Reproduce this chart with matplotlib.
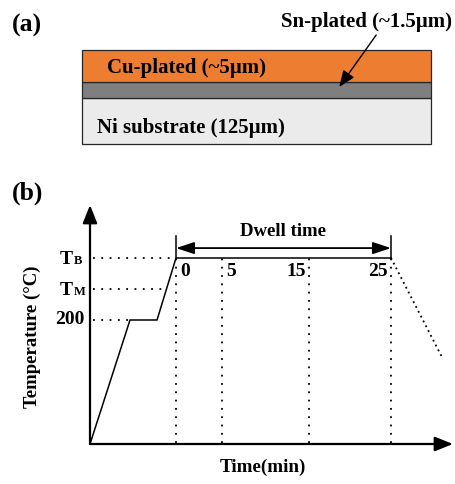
import matplotlib
matplotlib.use('Agg')
import matplotlib.pyplot as plt
from matplotlib.patches import FancyArrowPatch

# ---------------- data ----------------
layer_names = ['Ni substrate (125µm)', 'Sn-plated (~1.5µm)', 'Cu-plated (~5µm)']
layer_heights = [46, 16, 32]          # schematic (not to scale) drawn thickness
layer_colors = ['#EBEBEB', '#7F7F7F', '#ED7D31']

profile_time = [0, 40, 67, 86, 301]   # schematic time axis units
profile_temp = [0, 200, 200, 300, 300]
cool_time = [301, 352]
cool_temp = [300, 140]

temp_levels = [200, 250, 300]
temp_labels = [('200', ''), ('T', 'M'), ('T', 'B')]
temp_level_ends = [40, 76.5, 86]

dwell_pos = [86, 132, 219, 301]
dwell_labels = ['0', '5', '15', '25']

W, H = 456, 484
plt.rcParams['font.family'] = ['Liberation Serif', 'DejaVu Serif']
plt.rcParams['font.weight'] = 'bold'
fig = plt.figure(figsize=(W / 100, H / 100), dpi=100)

# ---------------- panel (a) ----------------
ax_a = fig.add_axes([82 / W, (H - 144) / H, (431 - 82) / W, 94 / H])
bottom = 0
for name, h, c in zip(layer_names, layer_heights, layer_colors):
    ax_a.bar(0.5, h, width=1.0, bottom=bottom, color=c, edgecolor='#262626', linewidth=0.9,
             clip_on=False)
    bottom += h
ax_a.set_xlim(0, 1)
ax_a.set_ylim(0, sum(layer_heights))
ax_a.axis('off')
ax_a.text(0.043, 16, layer_names[0], ha='left', va='center', fontsize=15, fontweight='bold')
ax_a.text(0.072, 76, layer_names[2], ha='left', va='center', fontsize=15, fontweight='bold')
fig.text(452 / W, 1 - 22 / H, layer_names[1], ha='right', va='center', fontsize=15, fontweight='bold')
arr = FancyArrowPatch((0.843, 109), (0.737, 57), arrowstyle='-|>,head_length=1.0,head_width=0.4',
                      mutation_scale=10, lw=1.0, color='black', shrinkA=0, shrinkB=0, clip_on=False)
ax_a.add_patch(arr)
fig.text(12 / W, 1 - 25 / H, '(a)', ha='left', va='center', fontsize=18.5, fontweight='bold')

# ---------------- panel (b) ----------------
scale = 0.62
ax_b = fig.add_axes([90 / W, (H - 444) / H, 363 / W, 239 / H])
ax_b.set_xlim(0, 363)
ax_b.set_ylim(0, 239 / scale)
ax_b.axis('off')
ytop = 239 / scale

# axes arrows
for start, end in [((0, 0), (0, ytop)), ((0, 0), (363, 0))]:
    ax_b.add_patch(FancyArrowPatch(start, end, arrowstyle='-|>,head_length=1.0,head_width=0.4',
                                   mutation_scale=11, lw=1.6, color='black', shrinkA=0, shrinkB=0,
                                   clip_on=False))

# profile
ax_b.plot(profile_time, profile_temp, color='black', lw=1.1, solid_joinstyle='miter', clip_on=False)
ax_b.plot(cool_time, cool_temp, color='black', lw=1.3, linestyle=(0, (1, 2)), clip_on=False)

dot = (0, (1, 3.6))
for lvl, end in zip(temp_levels, temp_level_ends):
    ax_b.plot([3, end], [lvl, lvl], color='black', lw=1.3, linestyle=dot)
for p in dwell_pos:
    ax_b.plot([p, p], [2, 300], color='black', lw=1.3, linestyle=dot)

# temperature labels
for lvl, (main, sub) in zip(temp_levels, temp_labels):
    if sub:
        ax_b.annotate(main, xy=(0, lvl), xytext=(-17, -6), textcoords='offset pixels',
                      ha='right', va='baseline', fontsize=14, fontweight='bold', annotation_clip=False)
        ax_b.annotate(sub, xy=(0, lvl), xytext=(-16, -6), textcoords='offset pixels',
                      ha='left', va='baseline', fontsize=9, fontweight='bold', annotation_clip=False)
    else:
        ax_b.annotate(main, xy=(0, lvl), xytext=(-5, 0), textcoords='offset pixels',
                      ha='right', va='center', fontsize=14, fontweight='bold', annotation_clip=False)

# dwell labels
for i, (p, lab) in enumerate(zip(dwell_pos, dwell_labels)):
    if i < 2:
        ax_b.annotate(lab, xy=(p, 300), xytext=(4, -13), textcoords='offset pixels',
                      ha='left', va='center', fontsize=14, fontweight='bold')
    else:
        ax_b.annotate(lab, xy=(p, 300), xytext=(-3, -13), textcoords='offset pixels',
                      ha='right', va='center', fontsize=14, fontweight='bold')

# dwell arrow
y_arrow = 316
for p in [dwell_pos[0], dwell_pos[-1]]:
    ax_b.plot([p, p], [300, 335], color='black', lw=1.1, clip_on=False)
ax_b.add_patch(FancyArrowPatch((dwell_pos[0], y_arrow), (dwell_pos[-1], y_arrow),
                               arrowstyle='<|-|>,head_length=1.0,head_width=0.33', mutation_scale=11,
                               lw=1.3, color='black', shrinkA=0, shrinkB=0, clip_on=False))
ax_b.text((dwell_pos[0] + dwell_pos[-1]) / 2, 342, 'Dwell time', ha='center', va='center',
          fontsize=13.5, fontweight='bold')

fig.text(263 / W, 1 - 467 / H, 'Time(min)', ha='center', va='center', fontsize=13.8, fontweight='bold')
fig.text(32 / W, 1 - 337 / H, 'Temperature (°C)', ha='center', va='center', rotation=90,
         fontsize=13.5, fontweight='bold')
fig.text(12 / W, 1 - 193 / H, '(b)', ha='left', va='center', fontsize=18.5, fontweight='bold')

fig.savefig('out.png', dpi=100)
